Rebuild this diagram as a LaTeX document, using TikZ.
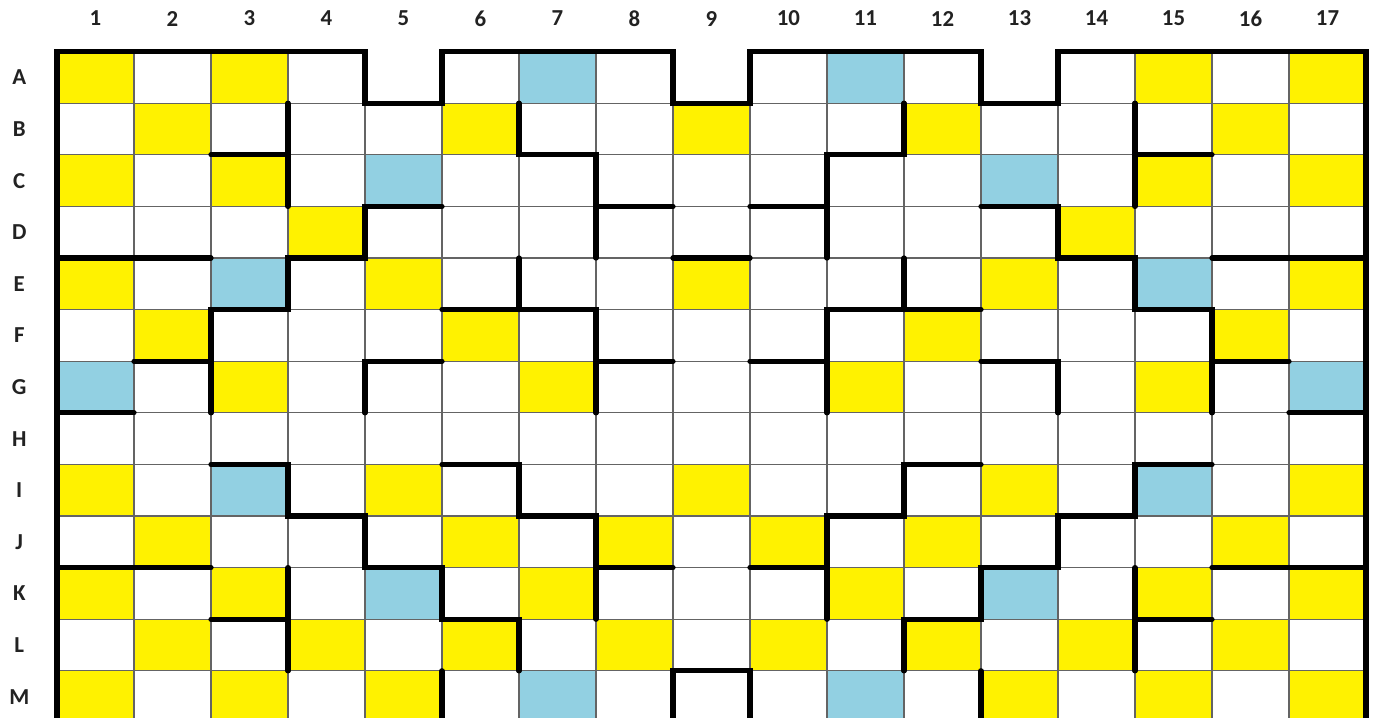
\documentclass[tikz,border=0pt]{standalone}
\usepackage{fontspec}
\setmainfont{Carlito}
\usepackage{tikz}
\usetikzlibrary{positioning}
\definecolor{boardyellow}{RGB}{255,242,0}
\definecolor{boardblue}{RGB}{146,208,226}
\definecolor{gridgray}{RGB}{100,100,100}
\definecolor{labelink}{RGB}{34,34,34}
\tikzset{
  collabel/.style={
    text=labelink,
    font=\fontsize{13}{15}\selectfont\bfseries,
    inner sep=0pt
  },
  rowlabel/.style={
    text=labelink,
    font=\fontsize{13}{15}\selectfont\bfseries,
    inner sep=0pt
  },
  thinline/.style={draw=gridgray,line width=0.6pt},
  wall/.style={draw=black,line width=3pt,line cap=round,line join=miter}
}

\begin{document}
\begin{tikzpicture}[x=1.54cm,y=-1.032cm]
  \useasboundingbox (-0.74,-1.0) rectangle (17.117,12.91);
  % coloured squares
  \foreach \c/\r in {1/1,3/1,15/1,17/1, 2/2,6/2,9/2,12/2,16/2, 1/3,3/3,15/3,17/3,
      4/4,14/4, 1/5,5/5,9/5,13/5,17/5, 2/6,6/6,12/6,16/6, 3/7,7/7,11/7,15/7,
      1/9,5/9,9/9,13/9,17/9, 2/10,6/10,8/10,10/10,12/10,16/10,
      1/11,3/11,7/11,11/11,15/11,17/11, 2/12,4/12,6/12,8/12,10/12,12/12,14/12,16/12,
      1/13,3/13,5/13,13/13,15/13,17/13}
    \fill[boardyellow] (\c-1,\r-1) rectangle (\c,\r);
  \foreach \c/\r in {7/1,11/1, 5/3,13/3, 3/5,15/5, 1/7,17/7, 3/9,15/9, 5/11,13/11, 7/13,11/13}
    \fill[boardblue] (\c-1,\r-1) rectangle (\c,\r);
  % thin grid
  \foreach \x in {1,...,16}
    \draw[thinline] (\x,0) -- (\x,13.2);
  \foreach \y in {1,...,12}
    \draw[thinline] (0,\y) -- (17,\y);
  \foreach \c in {5,9,13}
    \fill[white] (\c-1,-0.2) rectangle (\c,1);
  % outer border
  \draw[wall] (0,13.2) -- (0,0) -- (4,0) -- (4,1) -- (5,1) -- (5,0) -- (8,0) -- (8,1) -- (9,1) -- (9,0)
    -- (12,0) -- (12,1) -- (13,1) -- (13,0) -- (17,0) -- (17,13.2);
  \draw[wall] (8,13.2) -- (8,12) -- (9,12) -- (9,13.2);
  % walls, upper half
  \draw[wall] (2,2) -- (3,2);
  \draw[wall] (3,1) -- (3,3);
  \draw[wall] (6,1) -- (6,2) -- (7,2) -- (7,4);
  \draw[wall] (7,3) -- (8,3);
  \draw[wall] (5,3) -- (4,3) -- (4,4) -- (3,4) -- (3,5) -- (2,5) -- (2,7);
  \draw[wall] (0,4) -- (2,4);
  \draw[wall] (1,6) -- (2,6);
  \draw[wall] (0,7) -- (1,7);
  \draw[wall] (4,7) -- (4,6) -- (5,6);
  \draw[wall] (6,4) -- (6,5);
  \draw[wall] (5,5) -- (7,5) -- (7,7);
  \draw[wall] (7,6) -- (8,6);
  \draw[wall] (8,4) -- (9,4);
  \draw[wall] (15,2) -- (14,2);
  \draw[wall] (14,1) -- (14,3);
  \draw[wall] (11,1) -- (11,2) -- (10,2) -- (10,4);
  \draw[wall] (10,3) -- (9,3);
  \draw[wall] (12,3) -- (13,3) -- (13,4) -- (14,4) -- (14,5) -- (15,5) -- (15,7);
  \draw[wall] (17,4) -- (15,4);
  \draw[wall] (16,6) -- (15,6);
  \draw[wall] (17,7) -- (16,7);
  \draw[wall] (13,7) -- (13,6) -- (12,6);
  \draw[wall] (11,4) -- (11,5);
  \draw[wall] (12,5) -- (10,5) -- (10,7);
  \draw[wall] (10,6) -- (9,6);
  % walls, lower half
  \draw[wall] (2,8) -- (3,8) -- (3,9) -- (4,9) -- (4,10) -- (5,10) -- (5,11) -- (6,11) -- (6,12);
  \draw[wall] (0,10) -- (2,10);
  \draw[wall] (2,11) -- (3,11);
  \draw[wall] (3,10) -- (3,12);
  \draw[wall] (5,12) -- (5,13.2);
  \draw[wall] (5,8) -- (6,8) -- (6,9) -- (7,9) -- (7,11);
  \draw[wall] (7,10) -- (8,10);
  \draw[wall] (15,8) -- (14,8) -- (14,9) -- (13,9) -- (13,10) -- (12,10) -- (12,11) -- (11,11) -- (11,12);
  \draw[wall] (17,10) -- (15,10);
  \draw[wall] (15,11) -- (14,11);
  \draw[wall] (14,10) -- (14,12);
  \draw[wall] (12,12) -- (12,13.2);
  \draw[wall] (12,8) -- (11,8) -- (11,9) -- (10,9) -- (10,11);
  \draw[wall] (10,10) -- (9,10);
  % labels
  \foreach \c in {1,...,17}
    \node[collabel] (col\c) at (\c-0.5,-0.64) {\c};
  \foreach \r/\l in {1/A,2/B,3/C,4/D,5/E,6/F,7/G,8/H,9/I,10/J,11/K,12/L,13/M}
    \node[rowlabel] (row\l) at (-0.49,\r-0.5) {\l};
\end{tikzpicture}
\end{document}
